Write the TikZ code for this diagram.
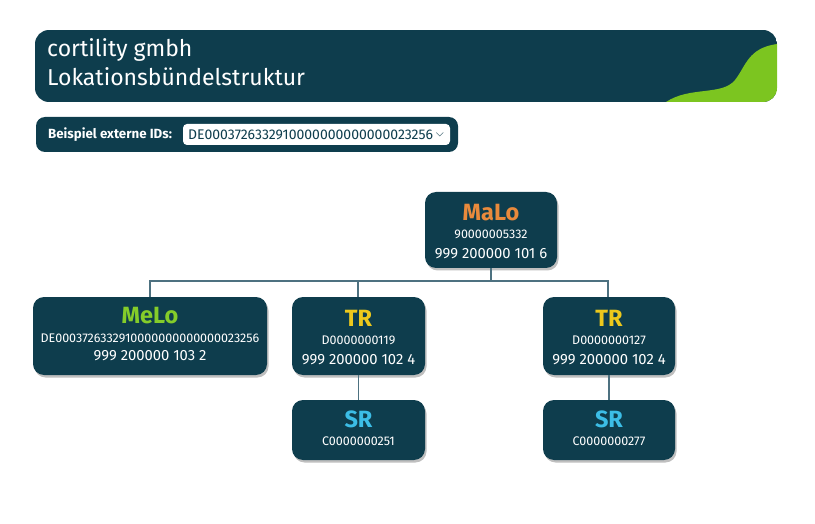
\documentclass[tikz,border=0pt]{standalone}
\usepackage{fontspec}
\setmainfont{Fira Sans}
\usetikzlibrary{shadows}
\definecolor{dark}{HTML}{0E3D4D}
\definecolor{lime}{HTML}{7CC520}
\definecolor{malo}{HTML}{E98A3C}
\definecolor{melo}{HTML}{84CC2A}
\definecolor{tr}{HTML}{EDC81C}
\definecolor{sr}{HTML}{3CBDE6}
\definecolor{conn}{HTML}{4D7180}
\tikzset{
  box/.style={fill=dark, rounded corners=11pt, inner sep=0pt,
    drop shadow={shadow xshift=1.5pt, shadow yshift=-2.5pt, opacity=0.25, fill=black}},
  head/.style={font=\fontsize{23.5}{26}\selectfont\bfseries, inner sep=0pt},
  small/.style={font=\fontsize{12.5}{14}\selectfont, text=white, inner sep=0pt},
  num/.style={font=\fontsize{14.8}{17}\selectfont, text=white, inner sep=0pt},
  link/.style={draw=conn, line width=1.1pt},
}
\begin{document}
\begin{tikzpicture}[x=1pt,y=-1pt]
\useasboundingbox (0,0) rectangle (815,524);
% banner
\begin{scope}
\path[clip, rounded corners=14pt] (35,30) rectangle (777,102);
\fill[dark] (35,30) rectangle (777,102);
\fill[lime] (666,102) .. controls (690,86) and (722,96) .. (735,80)
  .. controls (746,66) and (748,48) .. (777,44) -- (777,102) -- cycle;
\end{scope}
\node[anchor=west, text=white, inner sep=0pt, font=\fontsize{23}{25}\selectfont] (t1) at (47,50) {cortility gmbh};
\node[anchor=west, text=white, inner sep=0pt, font=\fontsize{23}{25}\selectfont] (t2) at (47,77) {Lokationsbündelstruktur};
% id bar
\fill[dark, rounded corners=9pt] (36,117) rectangle (458,152);
\node[anchor=west, text=white, inner sep=0pt, font=\fontsize{13.3}{15}\selectfont\bfseries] (lab) at (48,134.5) {Beispiel externe IDs:};
\node[fill=white, rounded corners=4pt, minimum width=267pt, minimum height=21pt, inner sep=0pt] (dd) at (316.5,134.5) {};
\node[anchor=west, inner sep=0pt, text=dark, font=\fontsize{14}{16}\selectfont] (ddt) at (188,134.5) {DE0003726332910000000000000023256};
\draw[dark!70, line width=0.6pt] (ddt.east) ++(3,-2) coordinate (c1) -- ++(3.5,3.5) coordinate (c2) -- ++(3.5,-3.5) coordinate (c3);
% connectors
\coordinate (mid) at (491,281);
\coordinate (l) at (150,281);
\coordinate (r) at (608,281);
\coordinate (m) at (358,281);
% boxes
\node[box, minimum width=132pt, minimum height=76pt] (malo) at (491,230) {};
\node[box, minimum width=234pt, minimum height=78pt] (melo) at (150,336) {};
\node[box, minimum width=133pt, minimum height=78pt] (tr1) at (358.5,336) {};
\node[box, minimum width=132pt, minimum height=78pt] (tr2) at (609,336) {};
\node[box, minimum width=133pt, minimum height=60pt] (sr1) at (358.5,430) {};
\node[box, minimum width=132pt, minimum height=60pt] (sr2) at (609,430) {};
\draw[link] (malo.south) -- (mid);
\draw[link] (l |- melo.north) -- (l) -- (r) -- (r |- tr2.north);
\draw[link] (m) -- (m |- tr1.north);
\draw[link] (tr1.south) -- (sr1.north);
\draw[link] (tr2.south) -- (sr2.north);
% texts
\node[head, text=malo] (malo1) at (491,213) {MaLo};
\node[small] (malo2) at (491,234) {90000005332};
\node[num] (malo3) at (491,254) {999 200000 101 6};
\node[head, text=melo] (melo1) at (150,316) {MeLo};
\node[small] (melo2) at (150,338) {DE0003726332910000000000000023256};
\node[num] (melo3) at (150,356) {999 200000 103 2};
\node[head, text=tr] (tr11) at (358.5,318) {TR};
\node[small] (tr12) at (358.5,340) {D0000000119};
\node[num] (tr13) at (358.5,360) {999 200000 102 4};
\node[head, text=tr] (tr21) at (609,318) {TR};
\node[small] (tr22) at (609,340) {D0000000127};
\node[num] (tr23) at (609,360) {999 200000 102 4};
\node[head, text=sr] (sr11) at (358.5,419) {SR};
\node[small] (sr12) at (358.5,441) {C0000000251};
\node[head, text=sr] (sr21) at (609,419) {SR};
\node[small] (sr22) at (609,441) {C0000000277};
\end{tikzpicture}
\end{document}
